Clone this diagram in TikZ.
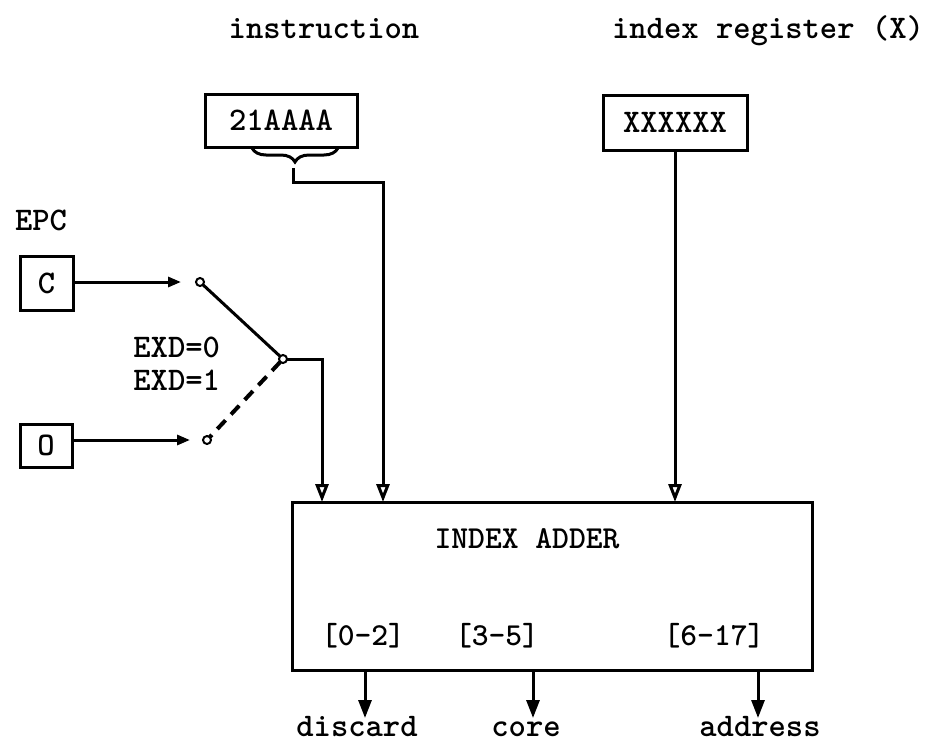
\documentclass[tikz,border=0pt]{standalone}
\usepackage{tikz}
\usetikzlibrary{arrows.meta,decorations.pathreplacing}

\begin{document}
\begin{tikzpicture}[x=1pt,y=-1pt,
  every node/.style={font=\ttfamily\bfseries\fontsize{33}{35}\selectfont, inner sep=0pt, outer sep=0pt},
  regbox/.style={draw, line width=3pt},
  tap/.style={circle, draw, line width=2pt, minimum size=8pt, fill=white},
  feed/.style={line width=3pt, -{Triangle[length=13pt,width=10pt]}},
  inarrow/.style={line width=3pt, -{Triangle[open,length=18pt,width=13pt]}},
  outarrow/.style={line width=3pt, -{Triangle[length=18pt,width=13pt]}}]
\useasboundingbox (0,0) rectangle (939,744);

\node[anchor=base] (instrlbl) at (324,38) {instruction};
\node[anchor=base] (xlbl) at (768,38) {index register (X)};

\node[regbox, minimum width=152pt, minimum height=53pt] (instr) at (281,120.5) {21AAAA};
\node[regbox, minimum width=144pt, minimum height=55pt] (xreg) at (675,122.5) {XXXXXX};

\node[anchor=base] (epc) at (41,230) {EPC};
\node[regbox, minimum width=53pt, minimum height=54pt] (cbox) at (46.5,283) {C};
\node[regbox, minimum width=52pt, minimum height=43pt] (obox) at (46,445.5) {O};

\node[tap] (tapc) at (200,282) {};
\node[tap] (pivot) at (283,359) {};
\node[tap] (tapo) at (207,440) {};
\node[anchor=base east] (exdzero) at (220,357) {EXD=0};
\node[anchor=base east] (exdone) at (220,390) {EXD=1};

\node[regbox, minimum width=520pt, minimum height=168pt] (adder) at (552,586) {};
\node[anchor=base, font=\ttfamily\bfseries\fontsize{32}{34}\selectfont] (title) at (527,548) {INDEX ADDER};
\node[anchor=base, font=\ttfamily\bfseries\fontsize{32}{34}\selectfont] (bitsa) at (363,645) {[0-2]};
\node[anchor=base, font=\ttfamily\bfseries\fontsize{32}{34}\selectfont] (bitsb) at (497,645) {[3-5]};
\node[anchor=base, font=\ttfamily\bfseries\fontsize{32}{34}\selectfont] (bitsc) at (714,645) {[6-17]};

\node[anchor=base] (discard) at (357,736) {discard};
\node[anchor=base] (core) at (526,736) {core};
\node[anchor=base] (address) at (760,736) {address};

\coordinate (bracetip) at (293,168);
\coordinate (jog) at (293,182);
\coordinate (ininstr) at (383,502);
\coordinate (inpc) at (322,502);
\coordinate (outa) at (365,718);
\coordinate (outb) at (533,718);
\coordinate (outc) at (758,718);

\draw[line width=3pt, decorate, decoration={brace, mirror, amplitude=14pt}] (252,148) -- (338,148);
\draw[inarrow] (bracetip) -- (jog) -| (ininstr);
\draw[inarrow] (xreg.south) -- (xreg.south |- adder.north);

\draw[feed, shorten >=15pt] (cbox.east |- tapc) -- (tapc);
\draw[feed, shorten >=13pt] (obox.east |- tapo) -- (tapo);
\draw[line width=3pt] (tapc) -- (pivot);
\draw[line width=4pt, dash pattern=on 12pt off 8pt] (pivot) -- (tapo);
\draw[inarrow] (pivot) -| (inpc);

\draw[outarrow] (outa |- adder.south) -- (outa);
\draw[outarrow] (outb |- adder.south) -- (outb);
\draw[outarrow] (outc |- adder.south) -- (outc);
\end{tikzpicture}
\end{document}
